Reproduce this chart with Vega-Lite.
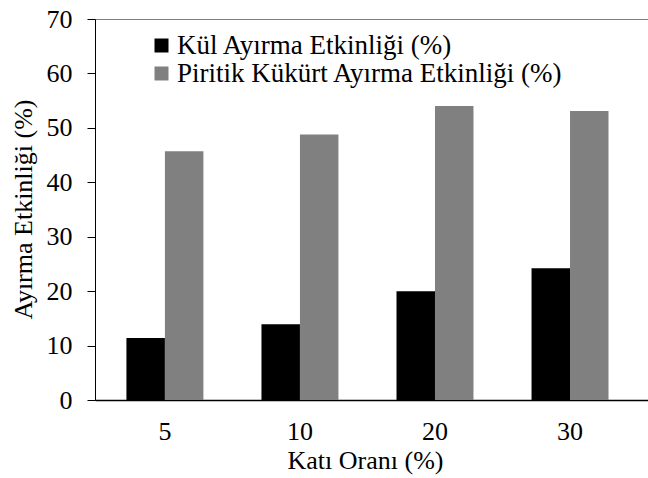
{
  "$schema": "https://vega.github.io/schema/vega-lite/v6.json",
  "width": 555,
  "height": 381,
  "autosize": {"type": "none"},
  "padding": {"left": 95, "top": 19, "right": 0, "bottom": 78},
  "background": "white",
  "config": {
    "font": "Liberation Serif",
    "view": {"stroke": "#808080", "strokeWidth": 1}
  },
  "data": {
    "values": [
      {"kati": "5", "seri": "Kül Ayırma Etkinliği (%)", "deger": 11.4},
      {"kati": "5", "seri": "Piritik Kükürt Ayırma Etkinliği (%)", "deger": 45.7},
      {"kati": "10", "seri": "Kül Ayırma Etkinliği (%)", "deger": 13.9},
      {"kati": "10", "seri": "Piritik Kükürt Ayırma Etkinliği (%)", "deger": 48.8},
      {"kati": "20", "seri": "Kül Ayırma Etkinliği (%)", "deger": 20.0},
      {"kati": "20", "seri": "Piritik Kükürt Ayırma Etkinliği (%)", "deger": 54.0},
      {"kati": "30", "seri": "Kül Ayırma Etkinliği (%)", "deger": 24.2},
      {"kati": "30", "seri": "Piritik Kükürt Ayırma Etkinliği (%)", "deger": 53.1}
    ]
  },
  "mark": {"type": "bar"},
  "encoding": {
    "x": {
      "field": "kati",
      "type": "nominal",
      "sort": ["5", "10", "20", "30"],
      "scale": {"paddingInner": 0.43, "paddingOuter": 0.27, "align": 0.431},
      "axis": {
        "title": "Katı Oranı (%)",
        "titleFont": "Liberation Serif",
        "labelFont": "Liberation Serif",
        "titleFontSize": 26,
        "titleFontWeight": "normal",
        "titleColor": "black",
        "titleX": 270,
        "titleY": 60,
        "titleBaseline": "middle",
        "labelAngle": 0,
        "labelFontSize": 26,
        "labelColor": "black",
        "labelBaseline": "middle",
        "labelPadding": 31,
        "ticks": false,
        "tickSize": 0,
        "domainColor": "black",
        "domainWidth": 1.5
      }
    },
    "xOffset": {
      "field": "seri",
      "type": "nominal",
      "sort": ["Kül Ayırma Etkinliği (%)", "Piritik Kükürt Ayırma Etkinliği (%)"],
      "scale": {"paddingInner": 0, "paddingOuter": 0}
    },
    "y": {
      "field": "deger",
      "type": "quantitative",
      "scale": {"domain": [0, 70], "nice": false},
      "axis": {
        "title": "Ayırma Etkinliği (%)",
        "titleFont": "Liberation Serif",
        "labelFont": "Liberation Serif",
        "titleFontSize": 26,
        "titleFontWeight": "normal",
        "titleColor": "black",
        "titleX": -72,
        "titleY": 190,
        "titleBaseline": "middle",
        "titleAngle": -90,
        "values": [0, 10, 20, 30, 40, 50, 60, 70],
        "grid": false,
        "labelFontSize": 26,
        "labelColor": "black",
        "labelPadding": 15,
        "tickSize": 8,
        "tickColor": "black",
        "domainColor": "black"
      }
    },
    "color": {
      "field": "seri",
      "type": "nominal",
      "sort": ["Kül Ayırma Etkinliği (%)", "Piritik Kükürt Ayırma Etkinliği (%)"],
      "scale": {"range": ["#000000", "#808080"]},
      "legend": {
        "title": null,
        "orient": "none",
        "legendX": 53,
        "legendY": 13,
        "labelFont": "Liberation Serif",
        "symbolType": "square",
        "symbolSize": 196,
        "symbolStrokeWidth": 0,
        "symbolOpacity": 1,
        "labelFontSize": 27,
        "labelColor": "black",
        "labelLimit": 600,
        "labelOffset": 2,
        "rowPadding": 0
      }
    }
  }
}
